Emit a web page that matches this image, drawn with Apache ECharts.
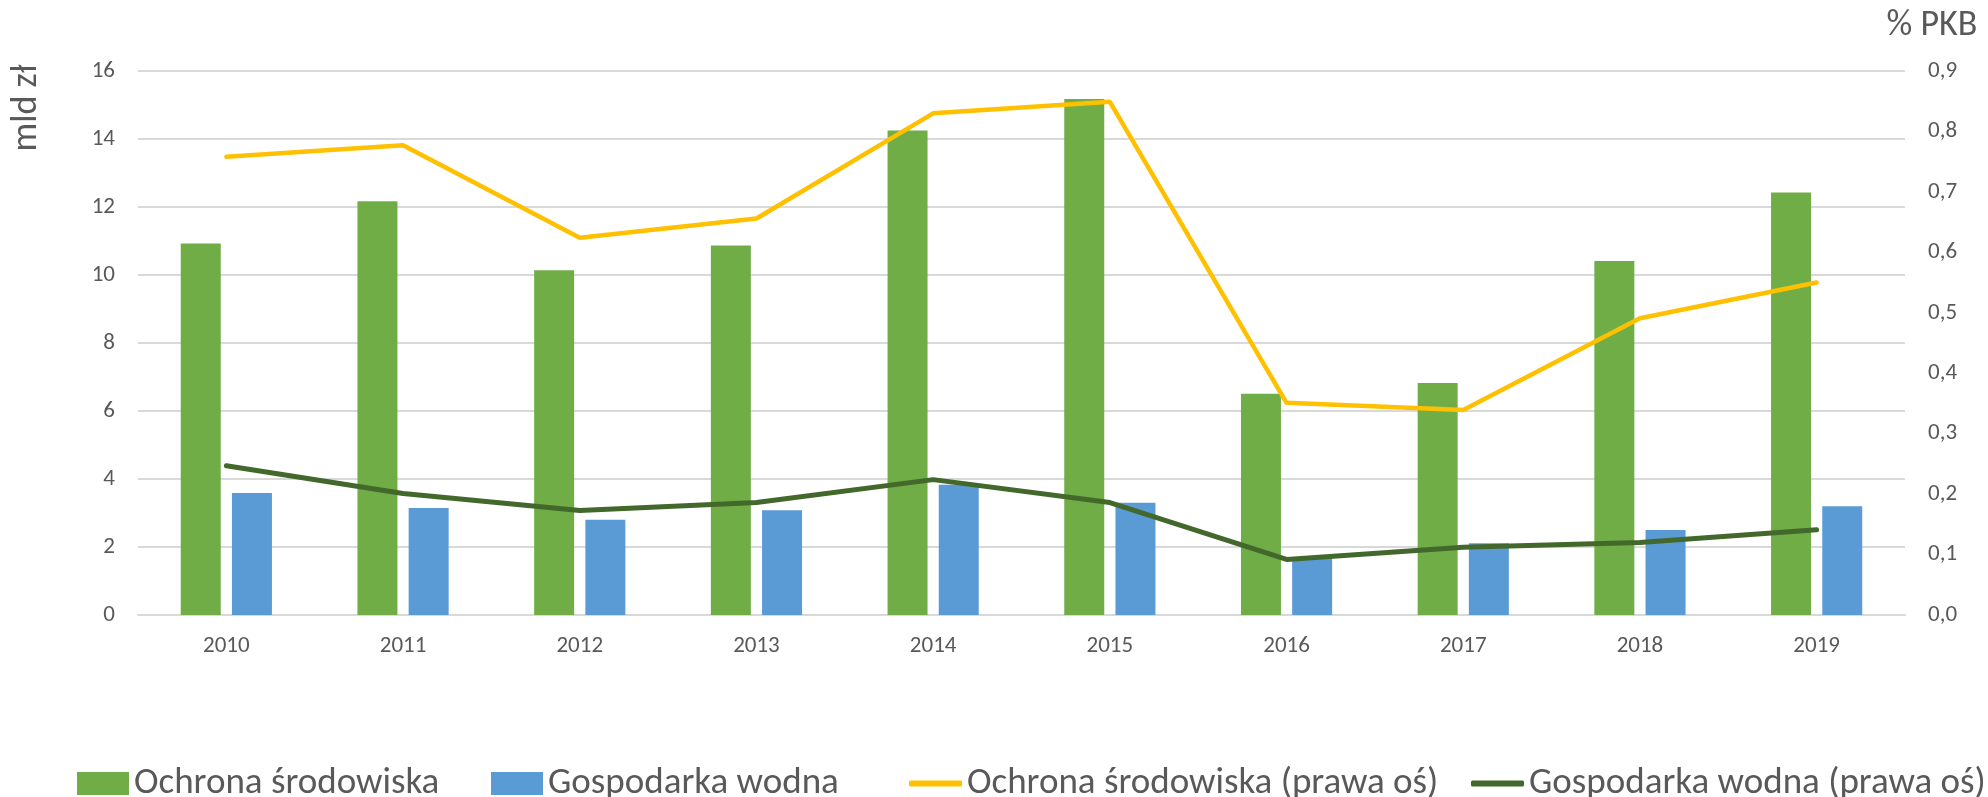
<!DOCTYPE html>
<html lang="pl">
<head>
    <meta charset="UTF-8">
    <title>Wydatki</title>
    <script src="https://cdn.jsdelivr.net/npm/echarts@6/dist/echarts.min.js"></script>
</head>
<body style="margin:0">
<div id="chart" style="width:1988px;height:797px"></div>
<script>
    var years = ['2010', '2011', '2012', '2013', '2014', '2015', '2016', '2017', '2018', '2019'];

    // mld zł
    var ochronaMld = [10.93, 12.17, 10.14, 10.87, 14.25, 15.18, 6.51, 6.82, 10.41, 12.43];
    var wodnaMld = [3.59, 3.15, 2.80, 3.08, 3.83, 3.30, 1.70, 2.11, 2.50, 3.20];

    // % PKB (prawa oś)
    var ochronaPkb = [0.758, 0.777, 0.624, 0.656, 0.830, 0.849, 0.351, 0.339, 0.491, 0.550];
    var wodnaPkb = [0.247, 0.201, 0.173, 0.186, 0.224, 0.186, 0.092, 0.112, 0.120, 0.141];

    var font = "'Carlito', 'Liberation Sans', sans-serif";
    var grey = '#595959';

    var myChart = echarts.init(document.getElementById('chart'));

    // legenda: osobno dla kazdej pozycji, zeby trzymac odstepy jak w oryginale
    var legends = [
        {left: 72, name: 'Ochrona środowiska', w: 52, h: 23, icon: 'rect'},
        {left: 486, name: 'Gospodarka wodna', w: 52, h: 23, icon: 'rect'},
        {left: 904, name: 'Ochrona środowiska (prawa oś)', w: 53, h: 6, icon: 'roundRect'},
        {left: 1466, name: 'Gospodarka wodna (prawa oś)', w: 53, h: 6, icon: 'roundRect'}
    ].map(function (l) {
        return {
            left: l.left, top: 760,
            itemWidth: l.w, itemHeight: l.h,
            data: [{name: l.name, icon: l.icon}],
            selectedMode: false,
            textStyle: {color: grey, fontSize: 37, fontFamily: font}
        };
    });

    var option = {
        backgroundColor: '#fff',
        textStyle: {fontFamily: font},
        grid: {left: 138, right: 83, top: 71, bottom: 182},
        legend: legends,
        graphic: [
            {
                type: 'text', x: 27, y: 108, rotation: Math.PI / 2,
                style: {text: 'mld zł', fill: grey, font: '36px ' + font, textAlign: 'center', textVerticalAlign: 'middle'}
            },
            {
                type: 'text', x: 1932, y: 26,
                style: {text: '% PKB', fill: grey, font: '36px ' + font, textAlign: 'center', textVerticalAlign: 'middle'}
            }
        ],
        xAxis: {
            type: 'category',
            data: years,
            axisTick: {show: false},
            axisLine: {lineStyle: {color: '#D9D9D9', width: 2}},
            axisLabel: {color: grey, fontSize: 23, margin: 20}
        },
        yAxis: [
            {
                type: 'value', min: 0, max: 16, interval: 2,
                axisLine: {show: false}, axisTick: {show: false},
                axisLabel: {color: grey, fontSize: 23, margin: 23},
                splitLine: {lineStyle: {color: '#D9D9D9', width: 2}}
            },
            {
                type: 'value', min: 0, max: 0.9, interval: 0.1,
                axisLine: {show: false}, axisTick: {show: false},
                splitLine: {show: false},
                axisLabel: {
                    color: grey, fontSize: 23, margin: 23,
                    formatter: function (v) { return v.toFixed(1).replace('.', ','); }
                }
            }
        ],
        series: [
            {
                name: 'Ochrona środowiska', type: 'bar', data: ochronaMld,
                barWidth: 40, barGap: '28%', itemStyle: {color: '#70AD47'}
            },
            {
                name: 'Gospodarka wodna', type: 'bar', data: wodnaMld,
                barWidth: 40, itemStyle: {color: '#5B9BD5'}
            },
            {
                name: 'Ochrona środowiska (prawa oś)', type: 'line', yAxisIndex: 1, data: ochronaPkb,
                symbol: 'none', lineStyle: {color: '#FFC000', width: 4.5, cap: 'round'}, itemStyle: {color: '#FFC000'}
            },
            {
                name: 'Gospodarka wodna (prawa oś)', type: 'line', yAxisIndex: 1, data: wodnaPkb,
                symbol: 'none', lineStyle: {color: '#43682B', width: 5, cap: 'round'}, itemStyle: {color: '#43682B'}
            }
        ]
    };

    myChart.setOption(option);
</script>
</body>
</html>
